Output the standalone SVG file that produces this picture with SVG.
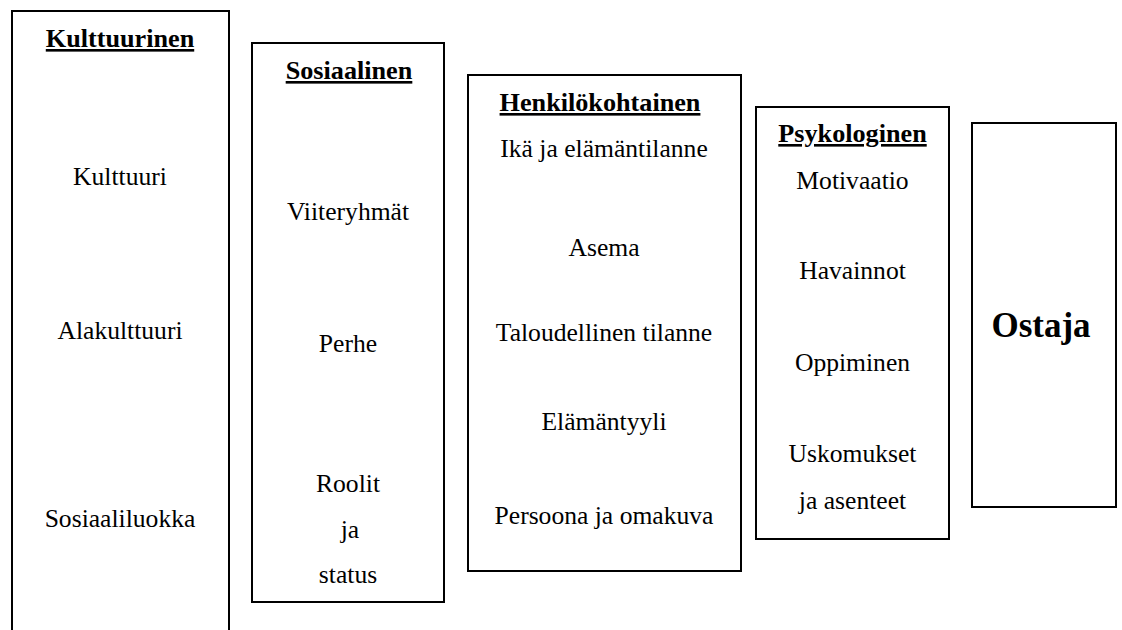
<svg xmlns="http://www.w3.org/2000/svg" width="1122" height="630" viewBox="0 0 1122 630">
<style>
.box{fill:#fff;stroke:#000;stroke-width:2}
text{font-family:"Liberation Serif","Times New Roman",serif;fill:#000;text-anchor:middle}
.t{font-size:26.2px;font-weight:bold;text-decoration:underline}
.b{font-size:25.6px}
.o{font-size:35px;font-weight:bold}
</style>
<rect width="1122" height="630" fill="#fff"/>
<g id="kulttuurinen">
<path class="box" d="M12,632 V11 H229 V632"/>
<text class="t" x="120" y="47">Kulttuurinen</text>
<text class="b" x="120" y="185">Kulttuuri</text>
<text class="b" x="120" y="339">Alakulttuuri</text>
<text class="b" x="120" y="527">Sosiaaliluokka</text>
</g>
<g id="sosiaalinen">
<rect class="box" x="252" y="43" width="192" height="559"/>
<text class="t" x="349" y="79">Sosiaalinen</text>
<text class="b" x="348" y="220">Viiteryhmät</text>
<text class="b" x="348" y="352">Perhe</text>
<text class="b" x="348" y="492">Roolit</text>
<text class="b" x="350" y="538">ja</text>
<text class="b" x="348" y="583">status</text>
</g>
<g id="henkilokohtainen">
<rect class="box" x="468" y="75" width="273" height="496"/>
<text class="t" x="600" y="111">Henkilökohtainen</text>
<text class="b" x="604" y="157">Ikä ja elämäntilanne</text>
<text class="b" x="604" y="256">Asema</text>
<text class="b" x="604" y="341">Taloudellinen tilanne</text>
<text class="b" x="604" y="430">Elämäntyyli</text>
<text class="b" x="604" y="524">Persoona ja omakuva</text>
</g>
<g id="psykologinen">
<rect class="box" x="756" y="107" width="193" height="432"/>
<text class="t" x="852.5" y="142">Psykologinen</text>
<text class="b" x="852.5" y="189">Motivaatio</text>
<text class="b" x="852.5" y="279">Havainnot</text>
<text class="b" x="852.5" y="371">Oppiminen</text>
<text class="b" x="852.5" y="462">Uskomukset</text>
<text class="b" x="852.5" y="509">ja asenteet</text>
</g>
<g id="ostaja">
<rect class="box" x="972" y="123" width="144" height="384"/>
<text class="o" x="1041" y="337">Ostaja</text>
</g>
<g id="connectors"/>
</svg>
